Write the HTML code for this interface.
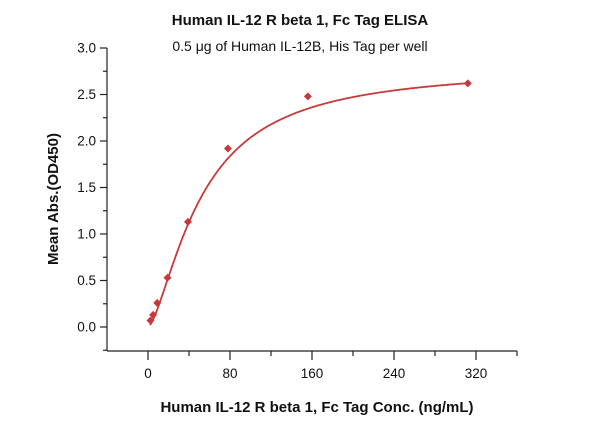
<!DOCTYPE html>
<html><head><meta charset="utf-8"><style>
body{margin:0;background:#fff;}
svg text{font-family:"Liberation Sans",sans-serif;fill:#111;}
</style></head><body>
<svg id="s" width="600" height="421" xmlns="http://www.w3.org/2000/svg">
<text x="300" y="25" text-anchor="middle" font-size="15" font-weight="bold">Human IL-12 R beta 1, Fc Tag ELISA</text>
<text x="300" y="51" text-anchor="middle" font-size="14">0.5 μg of Human IL-12B, His Tag per well</text>
<text transform="translate(58,199) rotate(-90)" text-anchor="middle" font-size="15" font-weight="bold">Mean Abs.(OD450)</text>
<text x="317" y="412" text-anchor="middle" font-size="15" font-weight="bold">Human IL-12 R beta 1, Fc Tag Conc. (ng/mL)</text>
<g stroke="#222" stroke-width="1.2" fill="none">
<line x1="107" y1="48" x2="107" y2="351"/>
<line x1="107" y1="351" x2="517" y2="351"/>
</g>
<g id="ticks" stroke="#222" stroke-width="1.2"></g>
<g id="lbl" font-size="13.5"></g>
<path id="curve" fill="none" stroke="#c83a3a" stroke-width="1.8"/>
<g id="pts" fill="#c8383a"></g>
</svg>
<script>
var X=function(v){return 148+v*82/80;},Y=function(v){return 327-v*93;};
var t=document.getElementById('ticks'),l=document.getElementById('lbl'),h='',g='';
for(var i=0;i<=6;i++){var y=Y(i*0.5);h+='<line x1="100" y1="'+y+'" x2="107" y2="'+y+'"/>';g+='<text x="96" y="'+(y+4.5)+'" text-anchor="end">'+(i*0.5).toFixed(1)+'</text>';
if(i<6){var ym=Y(i*0.5+0.25);h+='<line x1="103" y1="'+ym+'" x2="107" y2="'+ym+'"/>';}}
var ym2=Y(-0.25);h+='<line x1="103" y1="'+ym2+'" x2="107" y2="'+ym2+'"/>';
for(var v=0;v<=320;v+=80){var x=X(v);h+='<line x1="'+x+'" y1="351" x2="'+x+'" y2="360"/>';g+='<text x="'+x+'" y="378" text-anchor="middle">'+v+'</text>';}
[-40,40,120,200,280,360].forEach(function(v){var x=X(v);if(x>107&&x<=518)h+='<line x1="'+x+'" y1="351" x2="'+x+'" y2="356"/>';});
t.innerHTML=h;l.innerHTML=g;
var f=function(x){var r=Math.pow(x/52,1.5);return 2.8*r/(1+r);};
var d='';for(var x=2;x<=313;x+=1){d+=(d?'L':'M')+X(x).toFixed(1)+','+Y(f(x)).toFixed(1);}
document.getElementById('curve').setAttribute('d',d);
var P=[[2.4,0.07],[5,0.13],[9,0.26],[19,0.53],[39,1.13],[78,1.92],[156,2.48],[312,2.62]],p='';
P.forEach(function(q){var x=X(q[0]),y=Y(q[1]);p+='<polygon points="'+x+','+(y-4)+' '+(x+4)+','+y+' '+x+','+(y+4)+' '+(x-4)+','+y+'"/>';});
document.getElementById('pts').innerHTML=p;
</script>
</body></html>
